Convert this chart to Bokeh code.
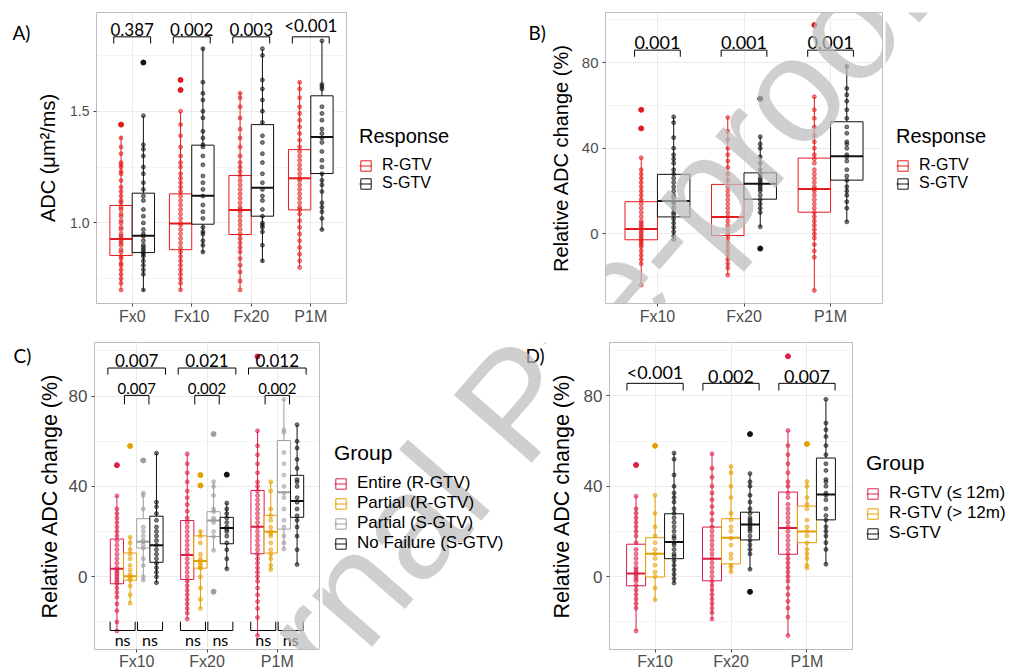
import math
from bokeh.plotting import figure
from bokeh.models import Range1d, FixedTicker, Label, Legend, LegendItem, PrintfTickFormatter
from bokeh.layouts import row, column
from bokeh.embed import file_html
from bokeh.resources import INLINE
from bokeh.core.properties import value

FONT = "Liberation Sans"
PFONT = "Lato"

# ---------------- Panel A : ADC ----------------
A_CATS = ["Fx0", "Fx10", "Fx20", "P1M"]
A_GROUPS = ["R-GTV", "S-GTV"]
# (lower whisker, Q1, median, Q3, upper whisker)
A_R_BOX = [(0.70, 0.854, 0.928, 1.078, 1.39), (0.70, 0.88, 0.997, 1.13, 1.497),
           (0.704, 0.948, 1.058, 1.212, 1.584), (0.803, 1.058, 1.20, 1.328, 1.631)]
A_S_BOX = [(0.696, 0.867, 0.942, 1.133, 1.478), (0.866, 0.994, 1.122, 1.348, 1.785),
           (0.825, 1.03, 1.157, 1.44, 1.776), (0.967, 1.221, 1.384, 1.569, 1.815)]
A_R_OUT = [[1.44], [1.64, 1.595], [], []]
A_S_OUT = [[1.718], [], [], []]
A_R_PTS = [
    [1.38, 1.34, 1.31, 1.27, 1.26, 1.25, 1.23, 1.22, 1.19, 1.16, 1.14, 1.12, 1.10, 1.09, 1.07, 1.06, 1.04, 1.03, 1.01, 1.00,
     0.98, 0.97, 0.95, 0.94, 0.93, 0.92, 0.91, 0.90, 0.88, 0.87, 0.85, 0.84, 0.82, 0.81, 0.79, 0.77, 0.75, 0.73, 0.70],
    [1.50, 1.44, 1.39, 1.34, 1.30, 1.27, 1.25, 1.22, 1.20, 1.18, 1.16, 1.14, 1.12, 1.10, 1.08, 1.06, 1.04, 1.02, 1.00, 0.99,
     0.97, 0.95, 0.93, 0.91, 0.89, 0.87, 0.85, 0.83, 0.81, 0.79, 0.77, 0.75, 0.73, 0.70],
    [1.58, 1.56, 1.52, 1.47, 1.42, 1.38, 1.34, 1.30, 1.27, 1.25, 1.23, 1.21, 1.19, 1.17, 1.15, 1.13, 1.11, 1.09, 1.07, 1.06,
     1.05, 1.03, 1.01, 0.99, 0.97, 0.95, 0.93, 0.91, 0.89, 0.87, 0.84, 0.81, 0.78, 0.74, 0.70],
    [1.63, 1.60, 1.56, 1.52, 1.49, 1.46, 1.43, 1.40, 1.37, 1.34, 1.32, 1.30, 1.28, 1.26, 1.24, 1.22, 1.20, 1.19, 1.17, 1.15,
     1.13, 1.11, 1.09, 1.07, 1.06, 1.04, 1.01, 0.98, 0.95, 0.92, 0.89, 0.86, 0.83, 0.80],
]
A_S_PTS = [
    [1.48, 1.35, 1.33, 1.30, 1.25, 1.22, 1.18, 1.15, 1.12, 1.10, 1.06, 1.03, 1.00, 0.97, 0.95, 0.94, 0.92, 0.90, 0.89, 0.88,
     0.87, 0.86, 0.85, 0.83, 0.81, 0.79, 0.77, 0.70],
    [1.78, 1.63, 1.58, 1.55, 1.50, 1.47, 1.41, 1.38, 1.35, 1.34, 1.30, 1.26, 1.21, 1.18, 1.15, 1.12, 1.08, 1.05, 1.02, 0.98,
     0.96, 0.95, 0.92, 0.90, 0.87],
    [1.78, 1.75, 1.64, 1.60, 1.55, 1.50, 1.45, 1.39, 1.36, 1.31, 1.27, 1.22, 1.18, 1.15, 1.12, 1.10, 1.06, 1.03, 1.00, 0.99,
     0.98, 0.96, 0.90, 0.83],
    [1.815, 1.62, 1.61, 1.60, 1.52, 1.49, 1.46, 1.42, 1.40, 1.38, 1.36, 1.32, 1.28, 1.25, 1.22, 1.19, 1.17, 1.14, 1.09, 1.07,
     1.05, 1.02, 0.97],
]
A_PVALS = ["0.387", "0.002", "0.003", "<0.001"]

# ---------------- Panel B : relative change, Response ----------------
B_CATS = ["Fx10", "Fx20", "P1M"]
B_GROUPS = ["R-GTV", "S-GTV"]
B_R_BOX = [(-24.0, -2.8, 2.3, 15.0, 35.6), (-19.3, -0.8, 7.9, 23.1, 54.4), (-26.5, 10.1, 21.0, 35.4, 64.1)]
B_S_BOX = [(-2.6, 7.9, 15.3, 27.8, 54.7), (3.3, 16.2, 23.4, 28.5, 45.4), (5.6, 25.1, 36.3, 52.4, 78.4)]
B_R_OUT = [[58.0, 49.3], [], [97.6]]
B_S_OUT = [[], [63.2, -6.9], []]
B_R_PTS = [
    [35.6, 30, 28, 26, 24, 22, 20, 18, 16, 14, 12, 10, 8, 6, 5, 4, 3, 2, 1, 0, -1, -2, -3, -4, -5, -6, -8, -10, -12, -14, -24],
    [54.4, 48, 44, 40, 37, 34, 31, 28, 25, 22, 20, 18, 16, 14, 12, 10, 8, 6, 4, 2, 0, -2, -4, -6, -8, -10, -12, -14, -16, -19.3],
    [64.1, 58, 54, 50, 46, 43, 40, 37, 35, 33, 30, 28, 26, 24, 22, 21, 20, 18, 16, 14, 12, 10, 8, 6, 4, 2, 0, -2, -5, -8, -11,
     -26.5],
]
B_S_PTS = [
    [54.7, 52, 45, 40, 37, 35, 33, 30, 28, 26, 24, 22, 20, 18, 17, 15, 14, 12, 10, 9, 7, 5, 3, 1, -1, -2.6],
    [45.4, 42, 40, 36, 33, 30, 28, 26, 25, 24, 23, 22, 21, 20, 18, 16, 14, 12, 10, 3.3],
    [78.4, 68, 65, 62, 58, 54, 50, 47, 43, 42, 40, 37, 36, 34, 30, 27, 25, 22, 20, 18, 15, 12, 5.6],
]
B_PVALS = ["0.001", "0.001", "0.001"]

# ---------------- Panel C : relative change, four groups ----------------
C_CATS = ["Fx10", "Fx20", "P1M"]
C_GROUPS = ["Entire (R-GTV)", "Partial (R-GTV)", "Partial (S-GTV)", "No Failure (S-GTV)"]
C_E_BOX = [(-24.0, -3.1, 3.5, 16.7, 35.8), (-18.7, -1.2, 9.6, 24.9, 54.4), (-26.2, 10.2, 22.1, 38.2, 64.6)]
C_PR_BOX = [(-11.7, -1.5, 0.2, 10.5, 17.5), (-14.0, 3.8, 7.0, 18.1, 20.5), (3.2, 10.5, 19.9, 27.2, 42.0)]
C_PS_BOX = [(-1.5, 12.7, 15.5, 25.7, 37.1), (11.7, 17.8, 24.9, 28.8, 42.1), (12.3, 21.1, 37.4, 60.3, 78.5)]
C_NF_BOX = [(-2.6, 6.4, 14.0, 26.8, 54.7), (3.5, 14.6, 21.6, 26.3, 32.6), (5.4, 26.3, 33.5, 44.9, 67.3)]
C_E_OUT = [[49.4], [], [97.5]]
C_PR_OUT = [[57.9], [45.0, 40.4], []]
C_PS_OUT = [[51.5], [63.2, -6.6], []]
C_NF_OUT = [[], [45.2], []]
C_E_PTS = [
    [35.8, 30, 28, 26, 24, 22, 20, 18, 16, 14, 12, 10, 8, 6, 4, 3, 2, 1, 0, -1, -2, -3, -5, -7, -9, -12, -15, -20, -24],
    [54.4, 50, 46, 42, 38, 35, 32, 29, 26, 24, 22, 20, 18, 16, 14, 12, 10, 8, 6, 4, 2, 0, -2, -4, -6, -8, -10, -12, -14, -16,
     -18.7],
    [64.6, 58, 54, 50, 46, 42, 40, 38, 36, 34, 32, 30, 28, 26, 24, 22, 20, 18, 16, 14, 12, 10, 8, 6, 4, 2, 0, -2, -5, -8, -11,
     -14, -18, -26],
]
C_PR_PTS = [
    [17.5, 15, 12, 10, 8, 5, 3, 1, 0, -0.5, -1.5, -4, -8, -11.7],
    [20, 18, 15, 10, 8, 7, 6, 5, 4, 3.8, 0, -5, -10, -14],
    [42, 38, 30, 27, 25, 22, 20, 19, 18, 15, 12, 10, 8, 5, 3.2],
]
C_PS_PTS = [
    [37.1, 36, 30, 22, 20, 18, 16, 15.5, 14, 12.7, 8, 5, 0, -1.5],
    [42.1, 40, 36, 30, 28.8, 26, 25, 24, 20, 17.8, 11.7],
    [78.5, 65, 64, 55, 50, 45, 40, 37, 35, 30, 25, 22, 18, 15, 12.3],
]
C_NF_PTS = [
    [54.7, 33, 31, 28, 25, 22, 20, 18, 16, 14, 12, 10, 8, 6, 4, 2, 0, -2.6],
    [32.6, 30, 28, 26, 24, 22, 21, 20, 18, 15, 12, 8, 3.5],
    [67.3, 60, 57, 52, 48, 43, 42, 40, 35, 33, 30, 27, 25, 22, 18, 12, 5.4],
]
C_PVALS_OUTER = ["0.007", "0.021", "0.012"]
C_PVALS_INNER = ["0.007", "0.002", "0.002"]
C_PVALS_LOW = ["ns", "ns"]

# ---------------- Panel D : relative change, three groups ----------------
D_CATS = ["Fx10", "Fx20", "P1M"]
D_GROUPS = ["R-GTV (≤ 12m)", "R-GTV (> 12m)", "S-GTV"]
D_R1_BOX = [(-24.1, -4.1, 1.3, 14.3, 35.6), (-18.8, -1.9, 7.9, 21.9, 54.4), (-26.2, 9.85, 21.5, 37.4, 64.7)]
D_R2_BOX = [(-10.3, -0.2, 10.1, 17.2, 36.0), (2.1, 5.6, 17.2, 25.6, 48.8), (3.8, 15.0, 19.9, 31.2, 42.1)]
D_S_BOX = [(-2.9, 7.9, 15.3, 27.8, 54.7), (3.2, 16.2, 23.1, 28.5, 45.6), (5.4, 25.1, 36.3, 52.5, 78.5)]
D_R1_OUT = [[49.4], [], [97.6]]
D_R2_OUT = [[57.9], [], [58.7]]
D_S_OUT = [[], [63.1, -6.8], []]
D_R1_PTS = [
    [35.6, 30, 28, 26, 24, 22, 20, 18, 15, 12, 10, 8, 6, 4, 3, 2, 1, 0, -1, -2, -4, -6, -8, -10, -12, -14, -24.1],
    [54.4, 48, 44, 40, 37, 34, 31, 28, 25, 22, 20, 18, 16, 14, 12, 10, 8, 6, 4, 2, 0, -2, -4, -6, -8, -10, -12, -14, -16,
     -18.8],
    [64.7, 58, 54, 50, 46, 42, 40, 37, 35, 32, 30, 28, 26, 24, 22, 20, 18, 16, 14, 12, 10, 8, 6, 4, 2, 0, -2, -5, -8, -11,
     -14, -18, -26.2],
]
D_R2_PTS = [
    [36, 28, 22, 18, 15, 12, 10, 8, 5, 2, 0, -5, -10.3],
    [48.8, 46, 40, 35, 28, 25, 22, 20, 17, 14, 10, 8, 5, 4, 2.1],
    [42.1, 40, 35, 32, 30, 25, 22, 20, 18, 15, 12, 10, 8, 5, 3.8],
]
D_S_PTS = [
    [54.7, 52, 45, 40, 37, 35, 33, 30, 28, 26, 24, 22, 20, 18, 17, 15, 14, 12, 10, 9, 7, 5, 3, 1, -1, -2.9],
    [45.6, 42, 40, 36, 33, 30, 28, 26, 25, 24, 23, 22, 21, 20, 18, 16, 14, 12, 10, 3.2],
    [78.5, 68, 65, 62, 58, 54, 50, 47, 43, 42, 40, 37, 36, 34, 30, 27, 25, 22, 20, 18, 15, 12, 5.4],
]
D_PVALS = ["<0.001", "0.002", "0.007"]

RED_AB = "#E41A1C"
RED_CD = "#DC1E46"
ORANGE = "#E69F00"
GRAY = "#9E9E9E"
BLACK = "#111111"

WM_TEXT = "Journal Pre-proof"
WM_X, WM_Y, WM_ANGLE, WM_SIZE = 132, 841, 49.0, 150

TOP_FRAME_BOTTOM = 303   # page y of the frame bottom edge, top row
BOT_FRAME_BOTTOM = 649   # page y of the frame bottom edge, bottom row


def base_fig(fw, fh, bl, br, bt, bb, xr, yr, cats, yticks, yminor, ylabel,
             tick_fs, xlab_fs, title_fs, ystand, xstand=1):
    p = figure(frame_width=fw, frame_height=fh, x_range=Range1d(*xr), y_range=Range1d(*yr),
               output_backend="svg", toolbar_location=None,
               min_border_left=bl, min_border_right=br, min_border_top=bt, min_border_bottom=bb)
    p.outline_line_color = "#BDBDBD"
    p.background_fill_color = "white"
    p.border_fill_color = "white"
    xa, ya = p.xaxis[0], p.yaxis[0]
    xt = FixedTicker(ticks=list(range(1, len(cats) + 1)))
    yt = FixedTicker(ticks=yticks, minor_ticks=yminor)
    xa.ticker = xt
    ya.ticker = yt
    p.xgrid.ticker = xt
    p.ygrid.ticker = yt
    xa.major_label_overrides = {i + 1: c for i, c in enumerate(cats)}
    for ax in (xa, ya):
        ax.axis_line_color = None
        ax.major_tick_line_color = "#444444"
        ax.major_tick_out = 3
        ax.major_tick_in = 0
        ax.minor_tick_line_color = None
        ax.major_label_text_color = "#4D4D4D"
        ax.major_label_text_font = FONT
    xa.major_label_text_font_size = xlab_fs
    ya.major_label_text_font_size = tick_fs
    xa.major_label_standoff = xstand
    ya.major_label_standoff = 3
    ya.axis_label = ylabel
    ya.axis_label_text_font = FONT
    ya.axis_label_text_font_size = title_fs
    ya.axis_label_text_font_style = "normal"
    ya.axis_label_text_color = "black"
    ya.axis_label_standoff = ystand
    p.xgrid.grid_line_color = "#EBEBEB"
    p.ygrid.grid_line_color = "#EBEBEB"
    p.ygrid.minor_grid_line_color = "#F4F4F4"
    return p


def blank_fig(w, h):
    # an axis-free canvas used for a legend / panel letter
    p = figure(width=w, height=h, x_range=Range1d(0, 1), y_range=Range1d(0, 1),
               x_axis_type=None, y_axis_type=None, output_backend="svg", toolbar_location=None,
               min_border=0)
    p.outline_line_color = None
    p.background_fill_color = "white"
    p.border_fill_color = "white"
    p.grid.visible = False
    return p


def draw_groups(p, boxes_list, colors, offsets, width):
    for boxes, color, off in zip(boxes_list, colors, offsets):
        xs = [i + 1 + off for i in range(len(boxes))]
        lo = [b[0] for b in boxes]
        q1 = [b[1] for b in boxes]
        med = [b[2] for b in boxes]
        q3 = [b[3] for b in boxes]
        hi = [b[4] for b in boxes]
        left = [x - width / 2 for x in xs]
        right = [x + width / 2 for x in xs]
        p.segment(x0=xs, y0=lo, x1=xs, y1=q1, line_color=color, line_width=1)
        p.segment(x0=xs, y0=q3, x1=xs, y1=hi, line_color=color, line_width=1)
        p.quad(left=left, right=right, bottom=q1, top=q3, fill_color="white",
               line_color=color, line_width=1)
        p.segment(x0=left, y0=med, x1=right, y1=med, line_color=color, line_width=2)


def draw_points(p, pts_list, outs_list, colors, offsets):
    for pts, outs, color, off in zip(pts_list, outs_list, colors, offsets):
        xs, ys = [], []
        for i, vals in enumerate(pts):
            xs += [i + 1 + off] * len(vals)
            ys += vals
        p.scatter(x=xs, y=ys, size=4, fill_color=color, line_color=color, alpha=0.55)
        ox, oy = [], []
        for i, vals in enumerate(outs):
            ox += [i + 1 + off] * len(vals)
            oy += vals
        p.scatter(x=ox, y=oy, size=5, fill_color=color, line_color=color, alpha=1.0)


def add_legend(p, labels, colors, title, title_fs, label_fs, loc, spacing):
    items = []
    for lbl, c in zip(labels, colors):
        # key renderers kept outside the visible range; only their legend keys show
        rb = p.quad(left=[-5], right=[-4], bottom=[-5], top=[-4], fill_color=None, line_color=c, line_width=1)
        rm = p.segment(x0=[-5], y0=[-5], x1=[-4], y1=[-5], line_color=c, line_width=1)
        items.append(LegendItem(label=lbl, renderers=[rb, rm]))
    leg = Legend(items=items, title=title, location=loc, orientation="vertical")
    leg.border_line_color = None
    leg.background_fill_alpha = 0
    leg.padding = 0
    leg.margin = 0
    leg.spacing = spacing
    leg.label_standoff = 10
    leg.glyph_width = 13
    leg.glyph_height = 13
    leg.label_height = 13
    leg.title_standoff = 8
    leg.label_text_font = FONT
    leg.label_text_font_size = label_fs
    leg.label_text_line_height = 0.95
    leg.label_text_color = "black"
    leg.title_text_font = FONT
    leg.title_text_font_size = title_fs
    leg.title_text_font_style = "normal"
    leg.title_text_color = "black"
    p.add_layout(leg)


def brackets(p, centers, half, y_line, y_end, labels, fs, ty, baseline="bottom"):
    xs, ys = [], []
    for xc in centers:
        xs.append([xc - half[0], xc - half[0], xc + half[1], xc + half[1]])
        ys.append([y_end, y_line, y_line, y_end])
    p.multi_line(xs=xs, ys=ys, line_color="black", line_width=1)
    tx = [xc + (half[1] - half[0]) / 2 for xc in centers]
    p.text(x=tx, y=[ty] * len(tx), text=labels, text_align="center", text_baseline=baseline,
           text_font=value(PFONT), text_font_size=fs, text_color="black")


def panel_letter(p, text, x, y):
    p.add_layout(Label(x=x, y=y, x_units="screen", y_units="screen", text=text,
                       text_font=PFONT, text_font_size="19px", text_color="black",
                       text_baseline="alphabetic"))


def watermark(p, frame_left, frame_bottom):
    p.add_layout(Label(x=WM_X - frame_left, y=frame_bottom - WM_Y, x_units="screen", y_units="screen",
                       text=WM_TEXT, angle=math.radians(WM_ANGLE), angle_units="rad",
                       text_font=FONT, text_font_size=f"{WM_SIZE}px", text_color="#BDBDBD",
                       text_alpha=0.72, text_baseline="alphabetic", text_align="left"))


# ================= top row (y 0..330, plot frames 12..303) =================
gutA = blank_fig(34, 330)
panel_letter(gutA, "A)", 12, TOP_FRAME_BOTTOM - 31.5)
watermark(gutA, 0, TOP_FRAME_BOTTOM)

# A : canvas x 34..345, frame 92..342
pA = base_fig(250, 291, 58, 3, 12, 27, (0.4, 4.6), (0.639, 1.942), A_CATS,
              [1.0, 1.5], [0.75, 1.25, 1.75], "ADC (μm²/ms)", "14px", "16px", "20px", 8)
pA.yaxis[0].formatter = PrintfTickFormatter(format="%.1f")
offA = [-0.1875, 0.1875]
draw_groups(pA, [A_R_BOX, A_S_BOX], [RED_AB, BLACK], offA, 0.375)
draw_points(pA, [A_R_PTS, A_S_PTS], [A_R_OUT, A_S_OUT], [RED_AB, BLACK], offA)
brackets(pA, [1, 2, 3, 4], (0.31, 0.31), 1.833, 1.803, A_PVALS, "17px", 1.835)
watermark(pA, 92, TOP_FRAME_BOTTOM)

# legend A + letter B : canvas x 345..542
legA = blank_fig(197, 330)
add_legend(legA, A_GROUPS, [RED_AB, BLACK], "Response", "20px", "16px", (10, 111), -3)
panel_letter(legA, "B)", 179, TOP_FRAME_BOTTOM - 31.5)
watermark(legA, 345, TOP_FRAME_BOTTOM)

# B : canvas x 542..879, frame 599..876
pB = base_fig(277, 291, 57, 3, 12, 27, (0.4, 3.6), (-32.6, 103.5), B_CATS,
              [0, 40, 80], [-20, 20, 60, 100], "Relative ADC change (%)", "15px", "16px", "20px", 7)
offB = [-0.1875, 0.1875]
draw_groups(pB, [B_R_BOX, B_S_BOX], [RED_AB, BLACK], offB, 0.375)
draw_points(pB, [B_R_PTS, B_S_PTS], [B_R_OUT, B_S_OUT], [RED_AB, BLACK], offB)
brackets(pB, [1, 2, 3], (0.264, 0.264), 85.9, 82.8, B_PVALS, "18px", 86.3)
watermark(pB, 599, TOP_FRAME_BOTTOM)

# legend B : canvas x 879..1011
legB = blank_fig(132, 330)
add_legend(legB, B_GROUPS, [RED_AB, BLACK], "Response", "20px", "16px", (11, 111), -3)
watermark(legB, 879, TOP_FRAME_BOTTOM)

# ================= bottom row (y 330..671, plot frames 342..649) =================
gutC = blank_fig(34, 341)
panel_letter(gutC, "C)", 13, BOT_FRAME_BOTTOM - 356)
watermark(gutC, 0, BOT_FRAME_BOTTOM)

# C : canvas x 34..320, frame 92..317
pC = base_fig(225, 307, 58, 3, 12, 22, (0.4, 3.6), (-32.2, 103.7), C_CATS,
              [0, 40, 80], [-20, 20, 60, 100], "Relative ADC change (%)", "17px", "16px", "21.5px", 4, 0)
offC = [-0.28125, -0.09375, 0.09375, 0.28125]
colC = [RED_CD, ORANGE, GRAY, BLACK]
draw_groups(pC, [C_E_BOX, C_PR_BOX, C_PS_BOX, C_NF_BOX], colC, offC, 0.1875)
draw_points(pC, [C_E_PTS, C_PR_PTS, C_PS_PTS, C_NF_PTS], [C_E_OUT, C_PR_OUT, C_PS_OUT, C_NF_OUT], colC, offC)
brackets(pC, [1, 2, 3], (0.41, 0.41), 92.4, 89.5, C_PVALS_OUTER, "17px", 92.9)
brackets(pC, [1, 2, 3], (0.174, 0.174), 80.3, 76.3, C_PVALS_INNER, "15px", 80.8)
low_centers_1 = [c - 0.2 for c in (1, 2, 3)]
low_centers_2 = [c + 0.19 for c in (1, 2, 3)]
brackets(pC, low_centers_1, (0.178, 0.178), -23.8, -19.9, C_PVALS_LOW[:1] * 3, "16px", -27.8, "middle")
brackets(pC, low_centers_2, (0.178, 0.178), -23.8, -19.9, C_PVALS_LOW[1:] * 3, "16px", -27.8, "middle")
watermark(pC, 92, BOT_FRAME_BOTTOM)

# legend C + letter D : canvas x 320..544
legC = blank_fig(224, 341)
add_legend(legC, C_GROUPS, colC, "Group", "21px", "17px", (12, 95), -4)
panel_letter(legC, "D)", 203, BOT_FRAME_BOTTOM - 356)
watermark(legC, 320, BOT_FRAME_BOTTOM)

# D : canvas x 544..847, frame 601..844
pD = base_fig(243, 307, 57, 3, 12, 22, (0.4, 3.6), (-32.35, 103.7), D_CATS,
              [0, 40, 80], [-20, 20, 60, 100], "Relative ADC change (%)", "17px", "16px", "21.5px", 7, 0)
offD = [-0.25, 0.0, 0.25]
colD = [RED_CD, ORANGE, BLACK]
draw_groups(pD, [D_R1_BOX, D_R2_BOX, D_S_BOX], colD, offD, 0.25)
draw_points(pD, [D_R1_PTS, D_R2_PTS, D_S_PTS], [D_R1_OUT, D_R2_OUT, D_S_OUT], colD, offD)
brackets(pD, [1, 2, 3], (0.37, 0.37), 85.6, 82.4, D_PVALS, "18px", 85.9)
watermark(pD, 601, BOT_FRAME_BOTTOM)

# legend D : canvas x 847..1011
legD = blank_fig(164, 341)
add_legend(legD, D_GROUPS, colD, "Group", "21px", "17px", (11, 105), -4)
watermark(legD, 847, BOT_FRAME_BOTTOM)

layout = column(row(gutA, pA, legA, pB, legB), row(gutC, pC, legC, pD, legD))
open("out.html", "w").write(file_html(layout, INLINE))
